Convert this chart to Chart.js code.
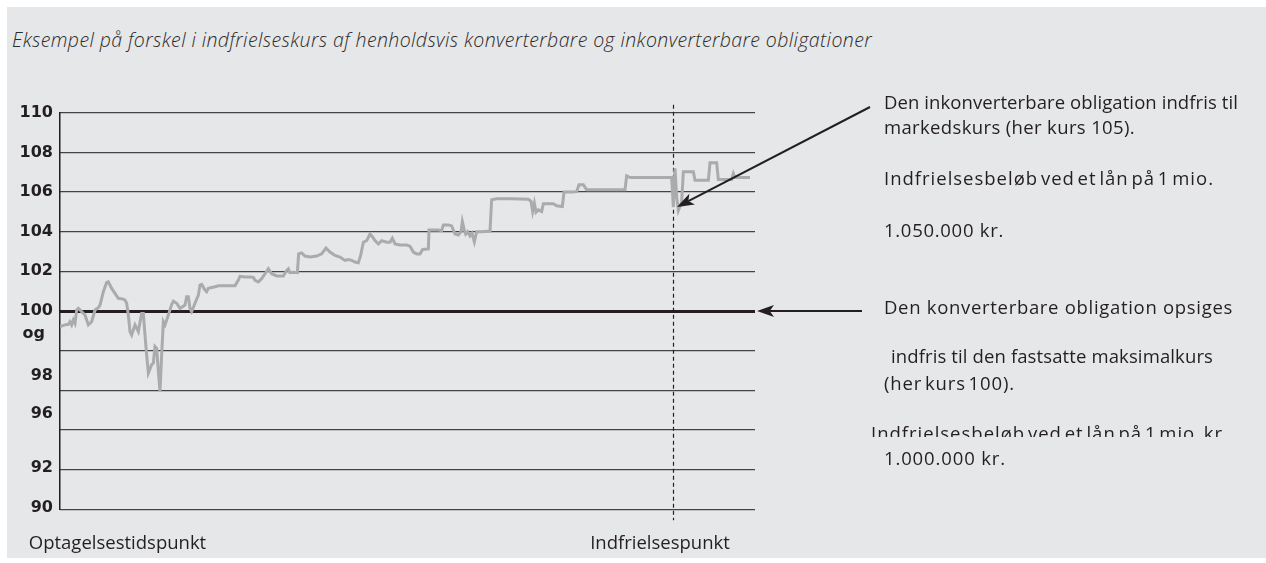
<!DOCTYPE html>
<html>
<head>
<meta charset="utf-8">
<script src="https://cdn.jsdelivr.net/npm/chart.js@4.4.1/dist/chart.umd.min.js"></script>
<style>
  html, body { margin: 0; padding: 0; background: #fff; }
  #panel { position: absolute; left: 7px; top: 7px; width: 1259px; height: 551px; background: #e6e7e8; }
  #chartBox { position: absolute; left: 0; top: 0; width: 1266px; height: 563px; }
  .note { position: absolute; font-family: 'Open Sans', sans-serif; font-size: 18.5px; line-height: 22px;
          color: #231f20; white-space: nowrap; }
  .tight { word-spacing: -3px; }
  #title { position: absolute; left: 12px; top: 28px; font-family: 'Open Sans', sans-serif; font-style: italic;
           font-weight: 300; font-size: 19.5px; line-height: 24px; color: #2b2b2b; white-space: nowrap; }
  #clipNote { position: absolute; left: 871px; top: 422px; width: 380px; height: 15px; overflow: hidden; }
</style>
</head>
<body>
<div id="panel"></div>
<div id="title" data-w="860">Eksempel på forskel i indfrielseskurs af henholdsvis konverterbare og inkonverterbare obligationer</div>
<div id="chartBox"><canvas id="kursChart" width="1266" height="563"></canvas></div>

<div class="note" data-w="354" style="left:884px; top:91px;">Den inkonverterbare obligation indfris til</div>
<div class="note" data-w="251" style="left:884px; top:116px;">markedskurs (her kurs 105).</div>
<div class="note tight" data-w="330" style="left:884px; top:167px;">Indfrielsesbeløb ved et lån på 1 mio.</div>
<div class="note" data-w="120" style="left:884px; top:219px;">1.050.000 kr.</div>
<div class="note" data-w="349" style="left:884px; top:296px;">Den konverterbare obligation opsiges</div>
<div class="note" data-w="322" style="left:891px; top:345px;">indfris til den fastsatte maksimalkurs</div>
<div class="note tight" data-w="131" style="left:884px; top:372px;">(her kurs 100).</div>
<div id="clipNote"><div class="note tight" data-w="358" style="left:0; top:0;">Indfrielsesbeløb ved et lån på 1 mio. kr.</div></div>
<div class="note" data-w="122" style="left:884px; top:447px;">1.000.000 kr.</div>

<script>
// --- data ---
// time (arbitrary steps from loan start), bond price
const tid = [
  0, 1, 1.67, 2, 2.33, 2.67, 3, 3.33, 3.67, 4.33, 5, 5.67, 6.33, 7, 7.67, 8, 8.67, 9.33, 9.67, 10.33,
  11, 11.67, 12.67, 13, 13.33, 13.67, 14, 14.33, 15, 15.67, 16.33, 16.67, 17, 17.33, 17.67, 18.33, 18.67, 19, 19.33, 19.67,
  20, 20.33, 20.67, 21, 21.67, 22.33, 22.67, 23.33, 24, 25, 25.33, 25.67, 26, 26.33, 27, 27.67, 28, 28.33, 29, 29.33,
  29.67, 31, 31.67, 35, 35.67, 36, 37, 38, 38.67, 39, 39.67, 40.33, 41, 41.67, 42.33, 43.33, 44.67, 45.33, 45.67, 46,
  46.67, 47.47, 47.73, 48.33, 49, 50, 51.33, 52.33, 53.2, 54, 55, 56, 57, 57.67, 58.33, 59, 59.67, 60.13, 60.67, 61.33,
  62, 62.33, 63, 63.67, 64.33, 65.33, 66, 66.47, 67, 68, 69.33, 70, 70.67, 71.33, 72, 72.53, 73.67, 73.8, 74.33, 75.67,
  76.33, 76.67, 77.67, 78.33, 79, 79.67, 80.2, 80.47, 80.87, 81.13, 81.53, 82, 82.4, 82.87, 83.33, 84.33, 86, 86.33, 87.33, 90.33,
  93.67, 94.2, 94.53, 94.87, 95.2, 95.67, 96.33, 96.67, 98.67, 99.33, 100.47, 100.8, 102.33, 103.33, 103.8, 104.67, 105.33, 107.67, 113, 113.33,
  114, 122.33, 122.67, 123, 123.33, 123.67, 124.33, 124.67, 126.67, 127, 129.67, 130, 131.33, 131.67, 134.33, 134.67, 135, 138
];
const kurs = [
  99.21, 99.30, 99.33, 99.46, 99.30, 99.55, 99.38, 100.05, 100.13, 99.97, 99.80, 99.30, 99.46, 100.05, 100.17, 100.30, 100.97, 101.44, 101.47, 101.14,
  100.89, 100.64, 100.60, 100.55, 100.39, 99.80, 98.96, 98.79, 99.30, 98.96, 99.88, 99.88, 98.79, 97.79, 96.87, 97.29, 97.37, 98.21, 98.12, 96.95,
  95.95, 97.79, 99.46, 99.30, 99.80, 100.33, 100.50, 100.39, 100.13, 100.30, 100.72, 100.72, 100.13, 99.97, 100.39, 100.80, 101.31, 101.34, 101.06, 100.97,
  101.14, 101.22, 101.27, 101.27, 101.56, 101.75, 101.72, 101.72, 101.70, 101.55, 101.47, 101.63, 101.88, 102.13, 101.88, 101.77, 101.77, 102.05, 102.13, 101.93,
  101.95, 101.93, 102.88, 102.93, 102.77, 102.72, 102.77, 102.88, 103.17, 102.97, 102.80, 102.72, 102.55, 102.60, 102.55, 102.47, 102.43, 102.80, 103.47, 103.55,
  103.88, 103.80, 103.55, 103.38, 103.55, 103.47, 103.47, 103.67, 103.38, 103.33, 103.33, 103.27, 102.97, 102.88, 102.88, 103.10, 103.13, 104.08, 104.08, 104.08,
  104.05, 104.34, 104.34, 104.29, 103.88, 103.83, 104.00, 104.51, 104.08, 103.88, 104.00, 103.78, 103.92, 103.49, 104.00, 104.00, 104.03, 105.61, 105.66, 105.66,
  105.64, 105.53, 105.02, 105.44, 104.98, 105.10, 105.02, 105.41, 105.41, 105.31, 105.27, 106.00, 106.00, 106.02, 106.37, 106.37, 106.12, 106.12, 106.12, 106.82,
  106.73, 106.73, 105.24, 107.19, 105.75, 105.07, 105.50, 107.02, 107.02, 106.59, 106.59, 107.47, 107.47, 106.63, 106.63, 106.93, 106.73, 106.73
];

// y axis: label texts and where they sit on the price scale
const yTickLabels = ['110', '108', '106', '104', '102', '100', 'og', '98', '96', '92', '90'];
const yTickAt = [110, 108, 106, 104, 102, 100, 98.86, 96.72, 94.8, 92.07, 90.07];

// x axis labels
const xTickLabels = ['Optagelsestidspunkt', 'Indfrielsespunkt'];
const xTickAt = [11.5, 120];

const indfrielsesTid = 122.67;     // redemption moment (dashed line)
const markedsPunkt = [123.4, 105.25]; // arrow tip: market price at redemption
const maksimalKurs = 100;

const points = tid.map((t, i) => ({ x: t, y: kurs[i] }));

// stretch the text lines to the widths they have in the original
function fitNotes() {
    document.querySelectorAll('[data-w]').forEach(el => {
        el.style.letterSpacing = '0px';
        const w = el.getBoundingClientRect().width;
        const n = el.textContent.length;
        el.style.letterSpacing = ((+el.dataset.w - w) / n) + 'px';
    });
}
fitNotes();
if (document.fonts) document.fonts.ready.then(fitNotes);

function drawArrow(ctx, x1, y1, x2, y2) {
    const ang = Math.atan2(y2 - y1, x2 - x1);
    const len = 17, half = 6;
    const bx = x2 - Math.cos(ang) * len * 0.75, by = y2 - Math.sin(ang) * len * 0.75;
    ctx.beginPath();
    ctx.moveTo(x1, y1);
    ctx.lineTo(bx, by);
    ctx.stroke();
    ctx.beginPath();
    ctx.moveTo(x2, y2);
    ctx.lineTo(x2 - Math.cos(ang) * len - Math.sin(ang) * half, y2 - Math.sin(ang) * len + Math.cos(ang) * half);
    ctx.lineTo(bx, by);
    ctx.lineTo(x2 - Math.cos(ang) * len + Math.sin(ang) * half, y2 - Math.sin(ang) * len - Math.cos(ang) * half);
    ctx.closePath();
    ctx.fill();
}

const markers = {
    id: 'markers',
    beforeDatasetsDraw(chart) {
        const { ctx, chartArea, scales: { x } } = chart;
        const xr = Math.round(x.getPixelForValue(indfrielsesTid)) + 0.5;
        ctx.save();
        ctx.strokeStyle = '#231f20';
        ctx.lineWidth = 1.2;
        ctx.setLineDash([4, 3]);
        ctx.beginPath();
        ctx.moveTo(xr, chartArea.top - 8);
        ctx.lineTo(xr, chartArea.bottom + 11);
        ctx.stroke();
        ctx.restore();
    },
    afterDatasetsDraw(chart) {
        const { ctx, chartArea, scales: { x, y } } = chart;
        ctx.save();
        ctx.strokeStyle = '#231f20';
        ctx.fillStyle = '#231f20';
        ctx.lineWidth = 2;
        drawArrow(ctx, 870, 107, x.getPixelForValue(markedsPunkt[0]), y.getPixelForValue(markedsPunkt[1]));
        const y100 = y.getPixelForValue(maksimalKurs);
        drawArrow(ctx, 862, y100, chartArea.right + 2, y100);
        ctx.restore();
    }
};

new Chart(document.getElementById('kursChart'), {
    type: 'line',
    data: {
        datasets: [{
            data: points,
            borderColor: '#a9abad',
            borderWidth: 3,
            pointRadius: 0,
            tension: 0,
            yAxisID: 'y'
        }]
    },
    options: {
        responsive: false,
        animation: false,
        layout: { padding: { top: 112.7, right: 511, bottom: 0, left: 0 } },
        plugins: { legend: { display: false }, tooltip: { enabled: false } },
        scales: {
            x: {
                type: 'linear',
                min: 0,
                max: 139,
                grid: { display: false },
                border: { display: false },
                afterBuildTicks: s => { s.ticks = xTickAt.map(v => ({ value: v })); },
                afterFit: s => { s.height = 53.7; },
                ticks: {
                    autoSkip: false,
                    maxRotation: 0,
                    padding: 15,
                    color: '#231f20',
                    font: { family: 'Open Sans', size: 18.5 },
                    callback: (v, i) => xTickLabels[i]
                }
            },
            yLab: {
                position: 'left',
                min: 90,
                max: 110,
                grid: { display: false, drawTicks: false },
                border: { display: true, color: '#231f20', width: 1.5 },
                afterBuildTicks: s => { s.ticks = yTickAt.map(v => ({ value: v })); },
                afterFit: s => { s.width = 60; },
                ticks: {
                    padding: 7,
                    color: '#231f20',
                    font: { family: 'DejaVu Sans', size: 16, weight: 'bold' },
                    callback: (v, i) => yTickLabels[i] === 'og' ? 'og\u2002' : yTickLabels[i]
                }
            },
            y: {
                position: 'right',
                min: 90,
                max: 110,
                border: { display: false },
                afterFit: s => { s.width = 0; },
                ticks: { display: false, stepSize: 2 },
                grid: {
                    drawTicks: false,
                    color: ctx => ctx.tick && ctx.tick.value === maksimalKurs ? '#231f20' : '#444446',
                    lineWidth: ctx => ctx.tick && ctx.tick.value === maksimalKurs ? 3 : 1.3
                }
            }
        }
    },
    plugins: [markers]
});
</script>
</body>
</html>
